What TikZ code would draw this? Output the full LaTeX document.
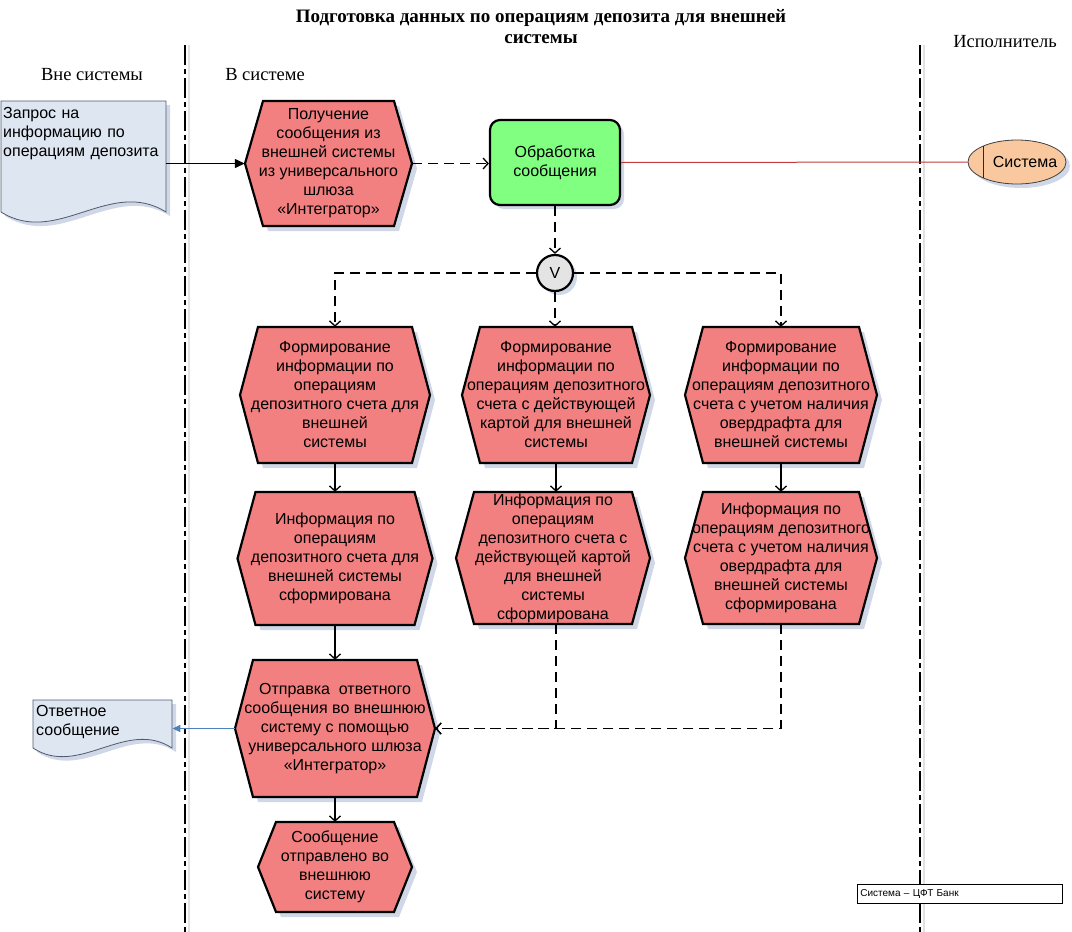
\documentclass[tikz,border=0pt]{standalone}
\usepackage{fontspec}
\setmainfont{Liberation Serif}
\newfontfamily\arialf{Liberation Sans}
\usetikzlibrary{arrows.meta,shapes.geometric,shadows}
\definecolor{hexred}{RGB}{242,128,128}
\definecolor{greenf}{RGB}{128,255,128}
\definecolor{shadowc}{RGB}{208,216,232}
\definecolor{docfill}{RGB}{222,230,242}
\definecolor{docline}{RGB}{80,90,110}
\definecolor{peach}{RGB}{250,200,158}
\definecolor{sysred}{RGB}{190,60,60}
\definecolor{blueline}{RGB}{79,129,189}
\definecolor{vgray}{RGB}{228,228,228}
\definecolor{laneshadow}{RGB}{225,225,225}
\tikzset{
  txt/.style={font=\arialf\fontsize{16}{19}\selectfont, align=center, inner xsep=4pt, inner ysep=0pt, text=black},
  hexshape/.style={draw=black, line width=2.2pt, fill=hexred, line join=miter},
  hexshadow/.style={fill=shadowc},
  barb/.style={-{Straight Barb[length=5pt,width=11pt,line width=1.3pt]}},
  dflow/.style={line width=1.4pt, dash pattern=on 10pt off 6pt, barb},
  sflow/.style={line width=1.4pt, barb},
  lane/.style={line width=1.2pt, dash pattern=on 20pt off 4pt on 5pt off 4pt},
  lanelabel/.style={font=\fontsize{18.5}{21}\selectfont},
  shad/.style={drop shadow={shadow xshift=4pt, shadow yshift=-4pt, fill=shadowc, opacity=1}},
}
% name, cx, cy, w, h, text
\newcommand\hexnode[6]{%
  \fill[hexshadow, shift={({#2+5},{#3+5})}] ({-#4/2},0) -- ({-#4/2+18},{-#5/2}) -- ({#4/2-18},{-#5/2}) -- ({#4/2},0) -- ({#4/2-18},{#5/2}) -- ({-#4/2+18},{#5/2}) -- cycle;
  \draw[hexshape, shift={(#2,#3)}] ({-#4/2},0) -- ({-#4/2+18},{-#5/2}) -- ({#4/2-18},{-#5/2}) -- ({#4/2},0) -- ({#4/2-18},{#5/2}) -- ({-#4/2+18},{#5/2}) -- cycle;
  \node[txt, inner xsep=0pt, minimum width=#4, minimum height=#5] (#1) at (#2,#3) {#6};
}
\begin{document}
\begin{tikzpicture}[x=1pt, y=-1pt]
\useasboundingbox (0,0) rectangle (1072,932);
% lanes
\draw[laneshadow, line width=1.5pt] (189,45) -- (189,932);
\draw[laneshadow, line width=1.5pt] (924,45) -- (924,932);
\draw[lane] (185,45) -- (185,932);
\draw[lane] (920,45) -- (920,932);
% title and lane labels
\node[font=\bfseries\fontsize{19}{21}\selectfont, align=center] (title) at (541,27) {Подготовка данных по операциям депозита для внешней\\системы};
\node[lanelabel] (lout) at (92,75) {Вне системы};
\node[lanelabel] (lin) at (265,75) {В системе};
\node[lanelabel] (lexec) at (1005,42) {Исполнитель};
% documents
\fill[shadowc] (5,105) -- (170,105) -- (170,216) .. controls (114,181) and (61,251) .. (5,216) -- cycle;
\draw[docline, fill=docfill, line width=0.8pt] (1,101) -- (166,101) -- (166,212) .. controls (110,177) and (57,247) .. (1,212) -- cycle;
\node[txt, align=left, anchor=north west, inner xsep=3pt, text width=160pt] (doc1) at (0,107) {Запрос на\\информацию по\\операциям депозита};
\fill[shadowc] (37,704) -- (176,704) -- (176,752) .. controls (130,722) and (83,782) .. (37,752) -- cycle;
\draw[docline, fill=docfill, line width=0.8pt] (33,700) -- (172,700) -- (172,748) .. controls (126,718) and (79,778) .. (33,748) -- cycle;
\node[txt, align=left, anchor=north west, inner xsep=3pt, text width=133pt] (doc2) at (33,705) {Ответное\\сообщение};
% hexagons
\hexnode{get}{328.5}{163.5}{167}{125}{Получение\\сообщения из\\внешней системы\\из универсального\\шлюза\\«Интегратор»}
\hexnode{fa}{335}{395}{190}{136}{Формирование\\информации по\\операциям\\депозитного счета для\\внешней\\системы}
\hexnode{fb}{556}{395}{188}{136}{Формирование\\информации по\\операциям депозитного\\счета с действующей\\картой для внешней\\системы}
\hexnode{fc}{781}{395}{192}{136}{Формирование\\информации по\\операциям депозитного\\счета с учетом наличия\\овердрафта для\\внешней системы}
\hexnode{ia}{335}{558.5}{195}{133}{Информация по\\операциям\\депозитного счета для\\внешней системы\\сформирована}
\hexnode{ib}{553}{558}{194}{132}{Информация по\\операциям\\депозитного счета с\\действующей картой\\для внешней\\системы\\сформирована}
\hexnode{ic}{781}{558}{192}{132}{Информация по\\операциям депозитного\\счета с учетом наличия\\овердрафта для\\внешней системы\\сформирована}
\hexnode{send}{335}{728.5}{200}{137}{Отправка\ \ ответного\\сообщения во внешнюю\\систему с помощью\\универсального шлюза\\«Интегратор»}
\hexnode{sent}{335}{867}{154}{90}{Сообщение\\отправлено во\\внешнюю\\систему}
% process
\node[txt, shad, draw=black, line width=2.2pt, fill=greenf, rounded corners=10pt, minimum width=130, minimum height=85] (proc) at (555,162.5) {Обработка\\сообщения};
% or connector
\node[txt, shad, circle, draw=black, line width=2.2pt, fill=vgray, minimum size=36, inner sep=0pt] (vor) at (555,273) {V};
% system ellipse
\fill[shadowc] (1021,166) ellipse [x radius=49, y radius=22];
\node[ellipse, draw=black!75, line width=0.8pt, fill=peach, minimum width=98, minimum height=44, inner sep=0pt] (sys) at (1017,162) {};
\draw[black!70!brown, line width=1pt] (983,146.2) -- (983,177.8);
\node[txt, inner sep=0pt] (systxt) at (1025,162) {Система};
% legend
\node[draw=black, fill=white, line width=0.6pt, anchor=north west, minimum width=205, minimum height=19, text width=199pt, inner xsep=3pt, font=\arialf\fontsize{10}{12}\selectfont, align=left] (legend) at (857,884) {Система – ЦФТ Банк};
% connectors
\draw[line width=1.3pt, -{Triangle[length=10pt,width=9pt]}] (get.west -| doc1.east) -- (get.west);
\draw[dflow] (get.east) -- (get.east -| proc.west);
\draw[sysred, line width=1pt] (proc.east) -- (sys.west);
\draw[dflow] (proc.south) -- (vor.north);
\draw[dflow] (vor.west) -| (fa.north);
\draw[dflow] (vor.east) -| (fc.north);
\draw[dflow] (vor.south) -- (vor.south |- fb.north);
\draw[sflow] (fa.south) -- (ia.north);
\draw[sflow] (fb.south) -- (fb.south |- ib.north);
\draw[sflow] (fc.south) -- (ic.north);
\draw[sflow] (ia.south) -- (send.north);
\draw[sflow] (send.south) -- (sent.north);
\draw[dflow] (ib.south -| fb.south) |- (send.east);
\draw[dflow] (ic.south) |- (send.east);
\draw[blueline, line width=1.3pt, -{Triangle[length=8pt,width=7pt]}] (send.west) -- (send.west -| doc2.east);
\end{tikzpicture}
\end{document}
